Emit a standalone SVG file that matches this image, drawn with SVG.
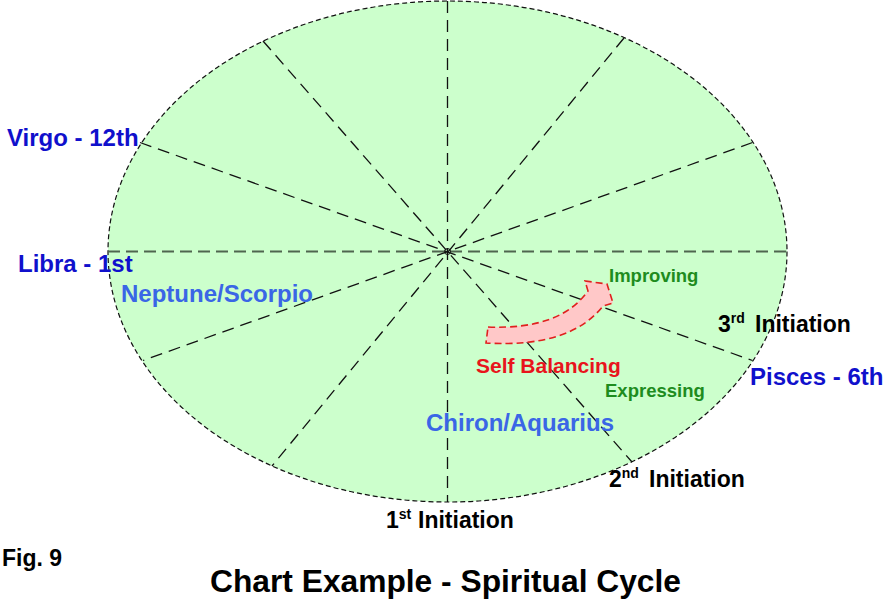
<svg xmlns="http://www.w3.org/2000/svg" width="883" height="602" viewBox="0 0 883 602">
<style>
text{font-family:"Liberation Sans",Arial,sans-serif;font-weight:bold}
.sign{fill:#1010CC;font-size:24px}
.planet{fill:#3A66E6;font-size:24px}
.init{fill:#000;font-size:23px}
.sup{font-size:14px}
.green{fill:#1E8C1E;font-size:18.5px}
.spoke{stroke:#111;stroke-width:1.3;stroke-dasharray:12 7;fill:none}
</style>
<rect width="883" height="602" fill="#fff"/>
<g id="chart">
<ellipse cx="447.5" cy="251.5" rx="339.5" ry="250.5" fill="#CCFFCC" stroke="#111" stroke-width="1.2" stroke-dasharray="5 3"/>
</g>
<g id="spokes">
<line x1="108" y1="251.5" x2="787" y2="251.5" stroke="#4F654F" stroke-width="2" stroke-dasharray="12 6"/>
<line class="spoke" x1="447.5" y1="1" x2="447.5" y2="502"/>
<line class="spoke" x1="140" y1="142.5" x2="752.5" y2="360.5"/>
<line class="spoke" x1="752.5" y1="142.5" x2="143" y2="360.5"/>
<line class="spoke" x1="263" y1="41" x2="632" y2="462"/>
<line class="spoke" x1="624" y1="38" x2="272" y2="466"/>
<circle cx="447.5" cy="251.5" r="3" fill="none" stroke="#111" stroke-width="1"/>
</g>
<g id="arrow">
<path d="M488,327 Q560,330 588,291 L585,281 L607,284 L613,303 L603,306 Q570,348 486,343 Z" fill="#FFC8C8" stroke="#E0201E" stroke-width="1.6" stroke-dasharray="7 4" stroke-linejoin="miter"/>
</g>
<g id="labels">
<text class="sign" x="7" y="146">Virgo - 12th</text>
<text class="sign" x="18" y="272">Libra - 1st</text>
<text class="sign" x="750" y="385">Pisces - 6th</text>
<text class="planet" x="121" y="302">Neptune/Scorpio</text>
<text class="planet" x="426" y="431">Chiron/Aquarius</text>
<text x="476" y="373" fill="#E8141C" font-size="21">Self Balancing</text>
<text class="green" x="609" y="282">Improving</text>
<text class="green" x="605" y="397">Expressing</text>
<text class="init" x="718" y="332">3<tspan class="sup" dy="-9">rd</tspan><tspan x="755" dy="9">Initiation</tspan></text>
<text class="init" x="609" y="487">2<tspan class="sup" dy="-9">nd</tspan><tspan x="649" dy="9">Initiation</tspan></text>
<text class="init" x="386" y="528">1<tspan class="sup" dy="-9">st</tspan><tspan x="418" dy="9">Initiation</tspan></text>
<text x="2" y="566" font-size="24" textLength="60" lengthAdjust="spacingAndGlyphs">Fig. 9</text>
<text x="210" y="592" font-size="31.5" textLength="471" lengthAdjust="spacingAndGlyphs">Chart Example - Spiritual Cycle</text>
</g>
</svg>
